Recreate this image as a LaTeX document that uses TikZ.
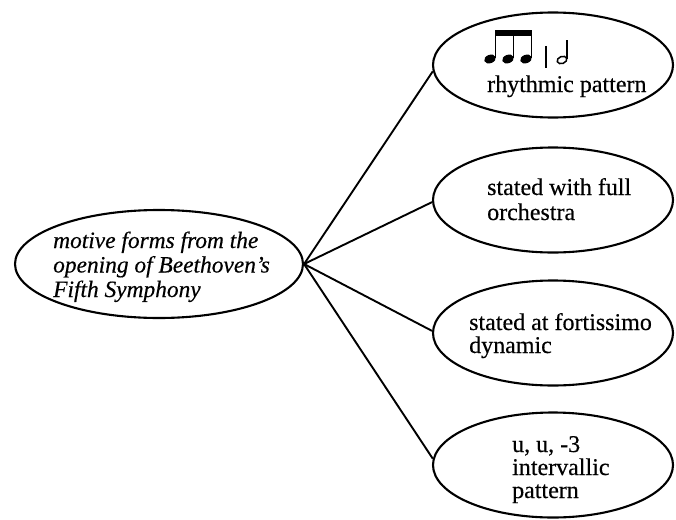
\documentclass[tikz,border=0pt]{standalone}
\usepackage{fontspec}
\setmainfont{Liberation Serif}[FakeBold=0.4]
\usetikzlibrary{shapes.geometric,calc}
\tikzset{
  oval/.style={ellipse, draw, line width=2.1pt, inner sep=0pt},
  rightoval/.style={oval, minimum width=240pt, minimum height=105pt},
  link/.style={line width=1.9pt},
  txt/.style={align=left, inner sep=0pt, font=\fontsize{24}{24}\selectfont},
}
\begin{document}
\begin{tikzpicture}[x=1pt,y=-1pt]
\useasboundingbox (0,0) rectangle (676,519);
% left ellipse
\node[oval, minimum width=288pt, minimum height=108pt] (m) at (159,264) {};
\node[txt, font=\fontsize{23.4}{24.5}\selectfont\itshape, anchor=base west] (mt) at (53,297)
  {motive forms from the\\opening of Beethoven's\\Fifth Symphony};
% right ellipses
\node[rightoval] (e1) at (553,65) {};
\node[rightoval] (e2) at (553,200) {};
\node[rightoval] (e3) at (553,333) {};
\node[rightoval] (e4) at (553,465) {};
% texts
\node[txt, anchor=base west] (t1) at (487,92) {rhythmic pattern};
\node[txt, anchor=base west, font=\fontsize{24}{25}\selectfont] (t2) at (487,220) {stated with full\\orchestra};
\node[txt, anchor=base west, font=\fontsize{24}{23}\selectfont] (t3) at (469,353) {stated at fortissimo\\dynamic};
\node[txt, anchor=base west, font=\fontsize{24}{23}\selectfont] (t4) at (512,498) {u, u, -3\\intervallic\\pattern};
% music notation
\foreach \x in {490,508,526}{
  \fill[rotate around={20:(\x,59)}] (\x,59) ellipse (6 and 4.2);
  \draw[line width=1.6pt] (\x+5.5,58) -- (\x+5.5,31);
}
\fill (494.7,30) rectangle (532.3,36.5);
\draw[line width=1.8pt] (546,46) -- (546,68);
\draw[line width=1.5pt, rotate around={20:(562,60)}] (562,60) ellipse (5 and 3.5);
\draw[line width=1.5pt] (567.2,59) -- (567.2,40);
% connectors
\draw[link] (m.east) -- (e1.183);
\draw[link] (m.east) -- (e2.181);
\draw[link] (m.east) -- (e3.179);
\draw[link] (m.east) -- (e4.177);
\end{tikzpicture}
\end{document}
